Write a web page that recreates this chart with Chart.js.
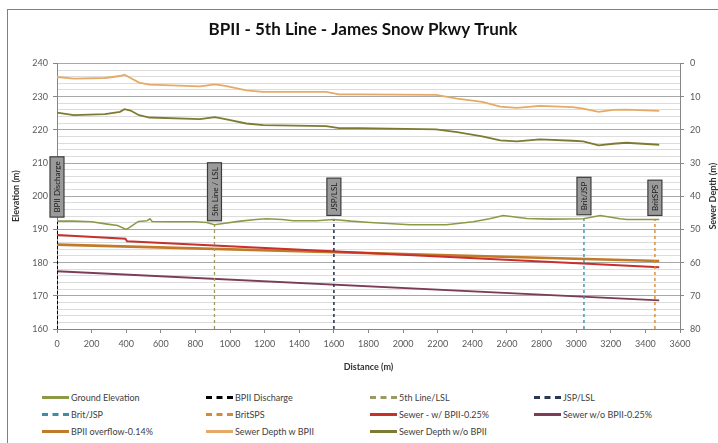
<!DOCTYPE html>
<html>
<head>
<meta charset="utf-8">
<script src="https://cdn.jsdelivr.net/npm/chart.js@4.4.1/dist/chart.umd.min.js"></script>
<style>
  html, body { margin: 0; padding: 0; background: #fff; width: 718px; height: 443px; overflow: hidden; }
  #frame { position: absolute; left: 7px; top: 9px; width: 730px; height: 450px; border: 1px solid #808080; box-sizing: border-box; }
  #wrap { position: absolute; left: 0; top: 0; width: 718px; height: 380px; }
  #legend { position: absolute; left: 42px; top: 389px; display: grid; grid-template-columns: repeat(4, 164px); grid-auto-rows: 17px; font-family: Lato, "Liberation Sans", sans-serif; font-size: 9px; color: #404040; }
  .item { display: flex; align-items: center; white-space: nowrap; }
  .sw { width: 27px; height: 0; margin-right: 2px; }
</style>
</head>
<body>
<div id="frame"></div>
<div id="wrap"><canvas id="c"></canvas></div>
<div id="legend"></div>
<script>
// ---- data ----
const chartTitle = 'BPII - 5th Line - James Snow Pkwy Trunk';

const groundDist = [0, 95, 200, 290, 350, 400, 420, 470, 520, 537, 550, 650, 800, 865, 910, 960, 1060, 1150, 1210, 1300, 1365, 1500, 1597, 1700, 1810, 2040, 2250, 2405, 2500, 2578, 2715, 2850, 3041, 3139, 3254, 3293, 3480];
const groundElev = [192.5, 192.5, 192.3, 191.6, 191.2, 190.0, 190.6, 192.4, 192.6, 193.2, 192.4, 192.3, 192.3, 192.1, 191.4, 191.8, 192.5, 193.0, 193.2, 193.0, 192.6, 192.6, 193.0, 192.5, 192.1, 191.4, 191.4, 192.3, 193.2, 194.2, 193.3, 193.1, 193.2, 194.2, 193.2, 193.0, 193.0];

const depthDist = [0, 97, 277, 364, 390, 425, 474, 535, 827, 912, 973, 1094, 1191, 1555, 1630, 1751, 2190, 2312, 2457, 2561, 2657, 2790, 2980, 3041, 3130, 3214, 3290, 3480];
const depthWithBPII = [4.1, 4.6, 4.4, 3.8, 3.4, 4.4, 5.8, 6.4, 6.9, 6.3, 6.8, 8.1, 8.6, 8.6, 9.3, 9.3, 9.5, 10.6, 11.6, 13.0, 13.4, 12.8, 13.2, 13.6, 14.6, 14.0, 13.9, 14.3];
const depthWithoutBPII = [14.8, 15.6, 15.3, 14.6, 13.8, 14.2, 15.6, 16.3, 16.8, 16.2, 16.8, 18.1, 18.6, 18.9, 19.5, 19.5, 19.9, 20.7, 22.0, 23.2, 23.5, 22.9, 23.3, 23.5, 24.7, 24.2, 23.9, 24.5];

const sewerWithDist = [0, 395, 405, 3480];
const sewerWithElev = [188.3, 187.2, 186.4, 178.6];
const sewerWithoutDist = [0, 3480];
const sewerWithoutElev = [177.4, 168.6];
const overflowDist = [0, 3480];
const overflowElev = [185.4, 180.5];

const markerNames = ['BPII Discharge', '5th Line/LSL', 'JSP/LSL', 'Brit/JSP', 'BritSPS'];
const markerTags = ['BPII Discharge', '5th Line / LSL', 'JSP/LSL', 'Brit/JSP', 'BritSPS'];
const markerDist = [0, 910, 1600, 3045, 3455];
const markerTop = [192.5, 191.4, 193.0, 193.2, 193.0];
const markerBottom = [160, 160, 160, 160, 160];

const elevRange = [160, 240];
const depthRange = [0, 80];
const distRange = [0, 3600];

// ---- styles ----
const FONT = 'Lato, "Liberation Sans", sans-serif';
const markerColors = ['#000000', '#9c9a62', '#2c3850', '#3d8ea4', '#d48a36'];
const markerWidths = [2, 1.3, 1.6, 1.4, 1.4];

function zip(xs, ys) { return xs.map((x, i) => ({ x: x, y: ys[i] })); }

const datasets = [];
datasets.push({ label: 'Ground Elevation', data: zip(groundDist, groundElev), borderColor: '#8c9a45', borderWidth: 1.6, yAxisID: 'y' });
markerNames.forEach((n, i) => {
  datasets.push({ label: n, data: zip([markerDist[i], markerDist[i]], [markerBottom[i], markerTop[i]]),
    borderColor: markerColors[i], borderWidth: markerWidths[i], borderDash: i === 0 ? [3, 2] : [3, 3], yAxisID: 'y' });
});
datasets.push({ label: 'Sewer - w/ BPII-0.25%', data: zip(sewerWithDist, sewerWithElev), borderColor: '#c8302c', borderWidth: 2, yAxisID: 'y' });
datasets.push({ label: 'Sewer w/o BPII-0.25%', data: zip(sewerWithoutDist, sewerWithoutElev), borderColor: '#7c3c58', borderWidth: 1.8, yAxisID: 'y' });
datasets.push({ label: 'BPII overflow-0.14%', data: zip(overflowDist, overflowElev), borderColor: '#c07a28', borderWidth: 2.6, yAxisID: 'y' });
datasets.push({ label: 'Sewer Depth w BPII', data: zip(depthDist, depthWithBPII), borderColor: '#e6aa66', borderWidth: 1.8, yAxisID: 'y1' });
datasets.push({ label: 'Sewer Depth w/o BPII', data: zip(depthDist, depthWithoutBPII), borderColor: '#7e7a32', borderWidth: 1.8, yAxisID: 'y1' });

const tagPlugin = {
  id: 'tags',
  afterDatasetsDraw(chart) {
    const ctx = chart.ctx, xs = chart.scales.x, ys = chart.scales.y;
    ctx.save();
    ctx.font = '8px ' + FONT;
    markerTags.forEach((t, i) => {
      const x = xs.getPixelForValue(markerDist[i]);
      const y = ys.getPixelForValue(markerTop[i]);
      const w = ctx.measureText(t).width;
      const h = w + 9, bw = 14;
      const bottom = y - 4;
      ctx.fillStyle = '#9a9a9a';
      ctx.strokeStyle = '#3c3c3c';
      ctx.lineWidth = 1.2;
      ctx.fillRect(x - bw / 2, bottom - h, bw, h);
      ctx.strokeRect(x - bw / 2, bottom - h, bw, h);
      ctx.translate(x, bottom - h / 2);
      ctx.rotate(-Math.PI / 2);
      ctx.fillStyle = '#1a1a1a';
      ctx.textAlign = 'center';
      ctx.textBaseline = 'middle';
      ctx.fillText(t, 0, 0.5);
      ctx.setTransform(1, 0, 0, 1, 0, 0);
    });
    // secondary axis title (reads bottom to top, as in the reference)
    const ca = chart.chartArea;
    ctx.translate(713, (ca.top + ca.bottom) / 2);
    ctx.rotate(-Math.PI / 2);
    ctx.font = 'bold 9px ' + FONT;
    ctx.fillStyle = '#333333';
    ctx.textAlign = 'center';
    ctx.textBaseline = 'middle';
    ctx.fillText('Sewer Depth (m)', 0, 0);
    ctx.restore();
  }
};

const chart = new Chart(document.getElementById('c'), {
  type: 'line',
  data: { datasets: datasets },
  plugins: [tagPlugin],
  options: {
    responsive: true,
    maintainAspectRatio: false,
    animation: false,
    events: [],
    layout: { padding: { left: 8, right: 0, top: 0, bottom: 0 } },
    elements: { point: { radius: 0 }, line: { tension: 0 } },
    plugins: {
      legend: { display: false },
      tooltip: { enabled: false },
      title: { display: true, text: chartTitle, color: '#111', font: { family: FONT, size: 17, weight: 'bold' }, padding: { top: 19, bottom: 24 } }
    },
    scales: {
      x: {
        type: 'linear', min: distRange[0], max: distRange[1],
        ticks: { stepSize: 200, autoSkip: false, color: '#595959', font: { family: FONT, size: 9 }, padding: 6, maxRotation: 0,
          callback: v => String(v) },
        grid: { drawOnChartArea: false, tickLength: 4, color: '#868686' },
        border: { color: '#868686' },
        title: { display: true, text: 'Distance (m)', color: '#333', font: { family: FONT, size: 9, weight: 'bold' }, padding: { top: 0, bottom: 8 } },
        afterFit(s) { s.height = 51; }
      },
      y: {
        position: 'left', min: elevRange[0], max: elevRange[1],
        ticks: { stepSize: 2, autoSkip: false, color: '#595959', font: { family: FONT, size: 9 }, padding: 5,
          callback: v => (v % 10 === 0 ? String(v) : '') },
        grid: { color: c => (c.tick && c.tick.value % 10 === 0 ? '#a8a8a8' : '#dcdcdc'),
          tickColor: c => (c.tick && c.tick.value % 10 === 0 ? '#868686' : 'rgba(0,0,0,0)'), tickLength: 4 },
        border: { color: '#868686' },
        title: { display: true, text: 'Elevation (m)', color: '#333', font: { family: FONT, size: 9, weight: 'bold' }, padding: { top: 3, bottom: 0 } },
        afterFit(s) { s.width = 49; }
      },
      y1: {
        position: 'right', min: depthRange[0], max: depthRange[1], reverse: true,
        ticks: { stepSize: 10, autoSkip: false, color: '#595959', font: { family: FONT, size: 9 }, padding: 6 },
        grid: { drawOnChartArea: false, tickLength: 4, color: '#868686' },
        border: { color: '#868686' },
        title: { display: false, text: 'Sewer Depth (m)' },
        afterFit(s) { s.width = 38; }
      }
    }
  }
});

// HTML legend built from the chart's datasets
const leg = document.getElementById('legend');
chart.data.datasets.forEach(ds => {
  const it = document.createElement('div'); it.className = 'item';
  const sw = document.createElement('div'); sw.className = 'sw';
  const dashed = ds.borderDash && ds.borderDash.length;
  sw.style.borderTop = '3px ' + (dashed ? 'dashed ' : 'solid ') + ds.borderColor;
  const tx = document.createElement('span'); tx.textContent = ds.label;
  it.appendChild(sw); it.appendChild(tx); leg.appendChild(it);
});
</script>
</body>
</html>
